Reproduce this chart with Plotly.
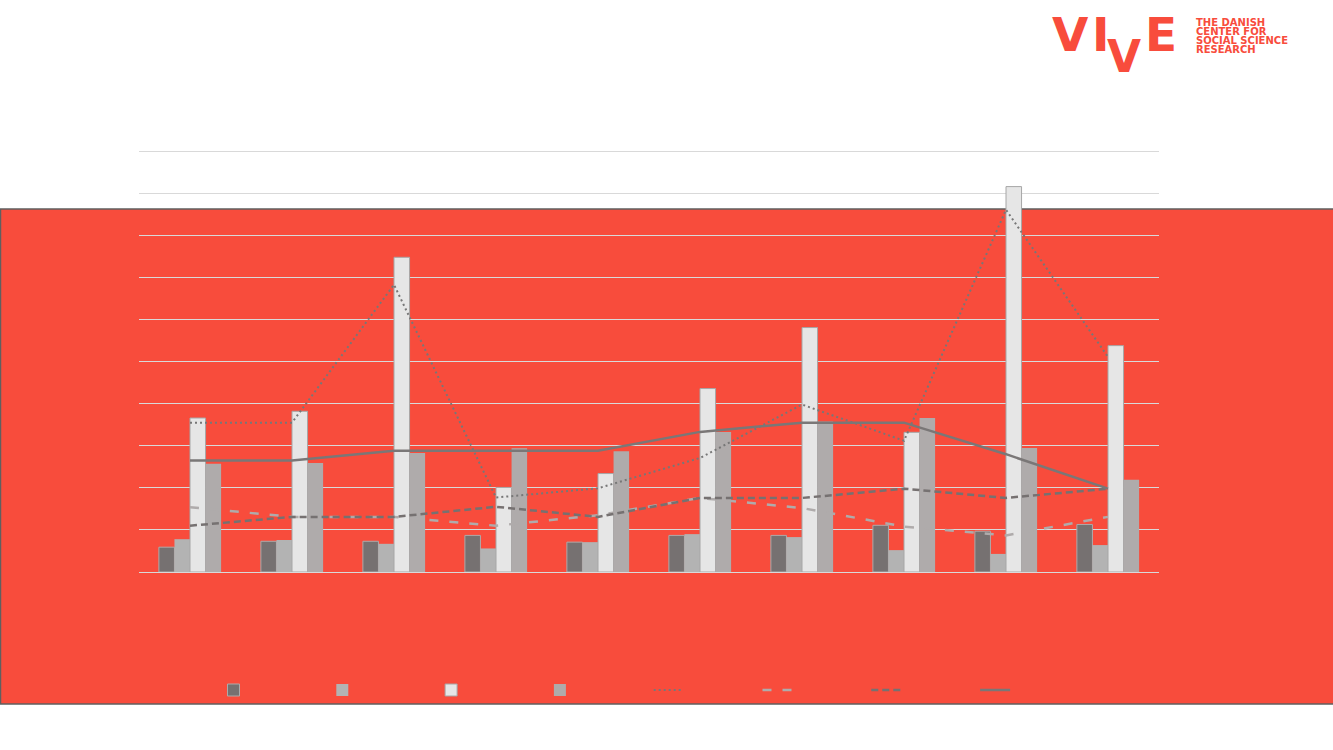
import plotly.graph_objects as go

# ---------------- data ----------------
categories = ["1", "2", "3", "4", "5", "6", "7", "8", "9", "10"]

bar_dark  = [0.59, 0.73, 0.73, 0.87, 0.71, 0.87, 0.87, 1.11, 0.97, 1.13]
bar_light = [0.78, 0.76, 0.67, 0.56, 0.71, 0.90, 0.83, 0.52, 0.43, 0.64]
bar_white = [3.66, 3.82, 7.48, 2.01, 2.34, 4.36, 5.81, 3.32, 9.16, 5.38]
bar_gray  = [2.57, 2.59, 2.83, 2.94, 2.87, 3.33, 3.58, 3.66, 2.95, 2.19]

line_dotted     = [3.55, 3.55, 6.83, 1.77, 1.99, 2.71, 3.98, 3.12, 8.61, 5.11]
line_dash_light = [1.54, 1.31, 1.31, 1.10, 1.35, 1.76, 1.52, 1.08, 0.87, 1.31]
line_dash_dark  = [1.10, 1.31, 1.31, 1.55, 1.31, 1.76, 1.76, 1.98, 1.76, 1.98]
line_solid      = [2.65, 2.65, 2.88, 2.88, 2.88, 3.33, 3.55, 3.55, 2.80, 1.98]

logo_letters = ["V", "I", "V", "E"]
logo_lines = ["THE DANISH", "CENTER FOR", "SOCIAL SCIENCE", "RESEARCH"]

# ---------------- layout constants ----------------
W, H = 1333, 750
ML, MR, MT, MB = 139, 174, 150, 178
PW = W - ML - MR
PH = H - MT - MB
RED = "#F84C3C"


def px_x(x):
    return (x - ML) / PW


def px_y(y):
    return (H - MB - y) / PH


fig = go.Figure()

fig.add_trace(go.Bar(x=categories, y=bar_dark, name=" ",
                     marker=dict(color="#767171", line=dict(color="#AEAAAA", width=1))))
fig.add_trace(go.Bar(x=categories, y=bar_light, name=" ",
                     marker=dict(color="#B3B3B3", line=dict(color="#B3B3B3", width=0))))
fig.add_trace(go.Bar(x=categories, y=bar_white, name=" ",
                     marker=dict(color="#E6E6E6", line=dict(color="#A6A6A6", width=1))))
fig.add_trace(go.Bar(x=categories, y=bar_gray, name=" ",
                     marker=dict(color="#AFABAB", line=dict(color="#AFABAB", width=0))))

fig.add_trace(go.Scatter(x=categories, y=line_dotted, name=" ", mode="lines",
                         line=dict(color="#777777", width=2, dash="2px,3px")))
fig.add_trace(go.Scatter(x=categories, y=line_dash_light, name=" ", mode="lines",
                         line=dict(color="#AFABAB", width=2.5, dash="9px,11px")))
fig.add_trace(go.Scatter(x=categories, y=line_dash_dark, name=" ", mode="lines",
                         line=dict(color="#767171", width=2.5, dash="7px,4px")))
fig.add_trace(go.Scatter(x=categories, y=line_solid, name=" ", mode="lines",
                         line=dict(color="#7A7777", width=2.5)))

# red background panel
fig.add_shape(type="rect", xref="paper", yref="paper",
              x0=px_x(0.5), x1=px_x(W + 2), y0=px_y(209), y1=px_y(704),
              fillcolor=RED, line=dict(color="#5F5F5F", width=1.5), layer="below")

# logo
letter_pos = [(1070, 35, 47), (1101, 35, 47), (1124, 56, 44), (1161, 35, 47)]
for ch, (lx, ly, fs) in zip(logo_letters, letter_pos):
    fig.add_annotation(x=px_x(lx), y=px_y(ly), xref="paper", yref="paper",
                       text=ch, showarrow=False, xanchor="center", yanchor="middle",
                       font=dict(family="DejaVu Sans", size=fs, color=RED, weight="bold"))
for i, t in enumerate(logo_lines):
    fig.add_annotation(x=px_x(1194), y=px_y(22.5 + 9 * i), xref="paper", yref="paper",
                       text="<b>" + t + "</b>", showarrow=False, xanchor="left", yanchor="middle",
                       font=dict(family="DejaVu Sans", size=10, color=RED))

fig.update_layout(
    width=W, height=H,
    margin=dict(l=ML, r=MR, t=MT, b=MB),
    paper_bgcolor="white", plot_bgcolor="rgba(0,0,0,0)",
    barmode="group", bargap=0.39, bargroupgap=0,
    showlegend=True,
    legend=dict(orientation="h", x=px_x(213.5), y=px_y(690), xanchor="left", yanchor="middle",
                entrywidth=63.8, entrywidthmode="pixels", itemwidth=30,
                bgcolor="rgba(0,0,0,0)", font=dict(size=10), traceorder="normal"),
    xaxis=dict(showticklabels=False, showgrid=False, zeroline=False, showline=False, ticks=""),
    yaxis=dict(range=[0, 10.03], dtick=1, showticklabels=False, showgrid=True,
               gridcolor="#D9D9D9", gridwidth=1.2, zeroline=True, zerolinecolor="#D9D9D9",
               zerolinewidth=1.2, showline=False, ticks=""),
    font=dict(family="DejaVu Sans"),
)

fig.write_html("out.html", config={"displayModeBar": False},
               post_script="document.body.style.margin='0';")
